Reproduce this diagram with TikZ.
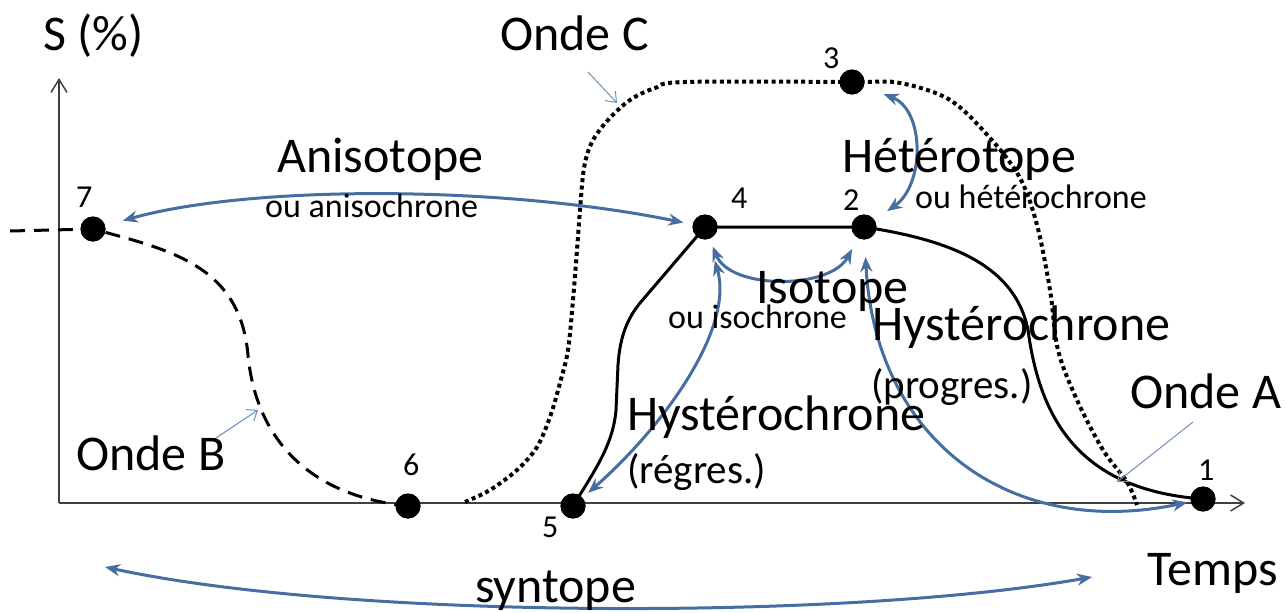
\documentclass[tikz,border=0pt]{standalone}
\usepackage{fontspec}
\setmainfont{Carlito}
\usetikzlibrary{arrows.meta}
\definecolor{arrblue}{RGB}{70,110,160}
\definecolor{thinblue}{RGB}{110,145,190}
\begin{document}
\begin{tikzpicture}[x=1pt,y=-1pt,
  big/.style={font=\fontsize{50}{55}\selectfont, anchor=base west, inner sep=0pt},
  mid/.style={font=\fontsize{41}{45}\selectfont, anchor=base west, inner sep=0pt},
  small/.style={font=\fontsize{34}{38}\selectfont, anchor=base west, inner sep=0pt},
  num/.style={font=\fontsize{32}{36}\selectfont, anchor=base west, inner sep=0pt},
  dot/.style={circle, fill=black, minimum size=25pt, inner sep=0pt},
  axis/.style={line width=1.5pt, draw=black!75, -{Straight Barb[length=13pt,width=16pt]}},
  waveA/.style={line width=3pt},
  waveB/.style={line width=3pt, dash pattern=on 15pt off 9pt},
  waveC/.style={line width=4pt, dash pattern=on 4pt off 3.4pt},
  barrow/.style={draw=arrblue, line width=3pt, {Stealth[length=15pt,width=12pt]}-{Stealth[length=15pt,width=12pt]}},
  tarrow/.style={draw=thinblue, line width=1pt, -{Straight Barb[length=9pt,width=14pt]}}]
\useasboundingbox (0,0) rectangle (1285,613);

% axes
\coordinate (O) at (59,503);
\coordinate (ytip) at (59,78);
\coordinate (xtip) at (1245,503);
\draw[axis] (O) -- (ytip);
\draw[axis] (O) -- (xtip);

% points
\node[dot] (p7) at (93,229) {};
\node[dot] (p4) at (705,227) {};
\node[dot] (p2) at (864,227) {};
\node[dot] (p3) at (852,82) {};
\node[dot] (p6) at (408,506) {};
\node[dot] (p5) at (573,506) {};
\node[dot] (p1) at (1203,499) {};

% wave A (solid)
\draw[waveA] (p5.center) .. controls (595,470) and (613,445) .. (616,410) -- (618,365)
  .. controls (620,335) and (628,318) .. (640,303) -- (p4.center) -- (p2.center)
  .. controls (950,240) and (1015,265) .. (1028,330)
  .. controls (1040,420) and (1080,490) .. (p1.center);

% wave B (dashed)
\coordinate (bstart) at (10,231);
\draw[waveB] (bstart) -- (p7.center)
  .. controls (170,250) and (240,265) .. (248,355)
  .. controls (255,430) and (300,495) .. (p6.center);

% wave C (dotted)
\coordinate (cstart) at (465,502);
\coordinate (cend) at (1137,505);
\draw[waveC] plot[smooth, tension=0.55] coordinates {(cstart) (490,490) (517,470) (537,447) (550,417) (560,383) (568,350) (573,300) (577,250) (580,210) (584,168) (592,142) (608,120) (630,100) (655,88) (685,82) (p3.center) (900,83) (950,100) (990,138) (1020,178) (1037,225) (1050,290) (1058,350) (1077,400) (1103,450) (1127,482) (cend)};

% redraw dots on top
\foreach \p in {p7,p4,p2,p3,p6,p5,p1} \fill (\p) circle (12.5pt);

% blue double arrows
\draw[barrow, shorten <=31pt, shorten >=22pt] (p7.center) .. controls (250,185) and (500,185) .. (p4.center);
\draw[barrow, shorten <=34pt, shorten >=28pt] (p3.center) .. controls (925,110) and (925,185) .. (p2.center);
\draw[barrow, shorten <=21pt, shorten >=25pt] (p4.center) .. controls (730,290) and (830,290) .. (p2.center);
\draw[barrow, shorten <=35pt, shorten >=20pt] (p4.center) .. controls (735,330) and (660,430) .. (p5.center);
\draw[barrow, shorten <=30pt, shorten >=16pt] (p2.center) .. controls (875,440) and (1010,540) .. (p1.center);
\coordinate (sL) at (105,567);
\coordinate (sR) at (1092,577);
\draw[barrow] (sL) .. controls (350,620) and (850,620) .. (sR);

% thin annotation arrows
\coordinate (tC1) at (588,72);  \coordinate (tC2) at (617,103);
\coordinate (tB1) at (213,440); \coordinate (tB2) at (258,410);
\coordinate (tA1) at (1193,422); \coordinate (tA2) at (1117,482);
\draw[tarrow] (tC1) -- (tC2);
\draw[tarrow] (tB1) -- (tB2);
\draw[tarrow] (tA1) -- (tA2);

% texts
\node[big] (tS) at (43,50) {S (\%)};
\node[big] (tOC) at (500,50) {Onde C};
\node[big] (tAni) at (277,172) {Anisotope};
\node[small] (tAni2) at (265,217) {ou anisochrone};
\node[big] (tHet) at (842,172) {Hétérotope};
\node[small] (tHet2) at (915,208) {ou hétérochrone};
\node[big] (tIso) at (756,303) {Isotope};
\node[small] (tIso2) at (668,328) {ou isochrone};
\node[big] (tHyP) at (872,340) {Hystérochrone};
\node[mid] (tPro) at (871,398) {(progres.)};
\node[big] (tHyR) at (627,430) {Hystérochrone};
\node[mid] (tReg) at (627,483) {(régres.)};
\node[big] (tOA) at (1130,408) {Onde A};
\node[big] (tOB) at (76,470) {Onde B};
\node[big] (tSyn) at (475,602) {syntope};
\node[big] (tTemps) at (1147,585) {Temps};

\node[num] (n7) at (76,207) {7};
\node[num] (n4) at (731,208) {4};
\node[num] (n2) at (843,210) {2};
\node[num] (n3) at (823,68) {3};
\node[num] (n6) at (403,475) {6};
\node[num] (n5) at (542,537) {5};
\node[num] (n1) at (1198,480) {1};
\end{tikzpicture}
\end{document}
